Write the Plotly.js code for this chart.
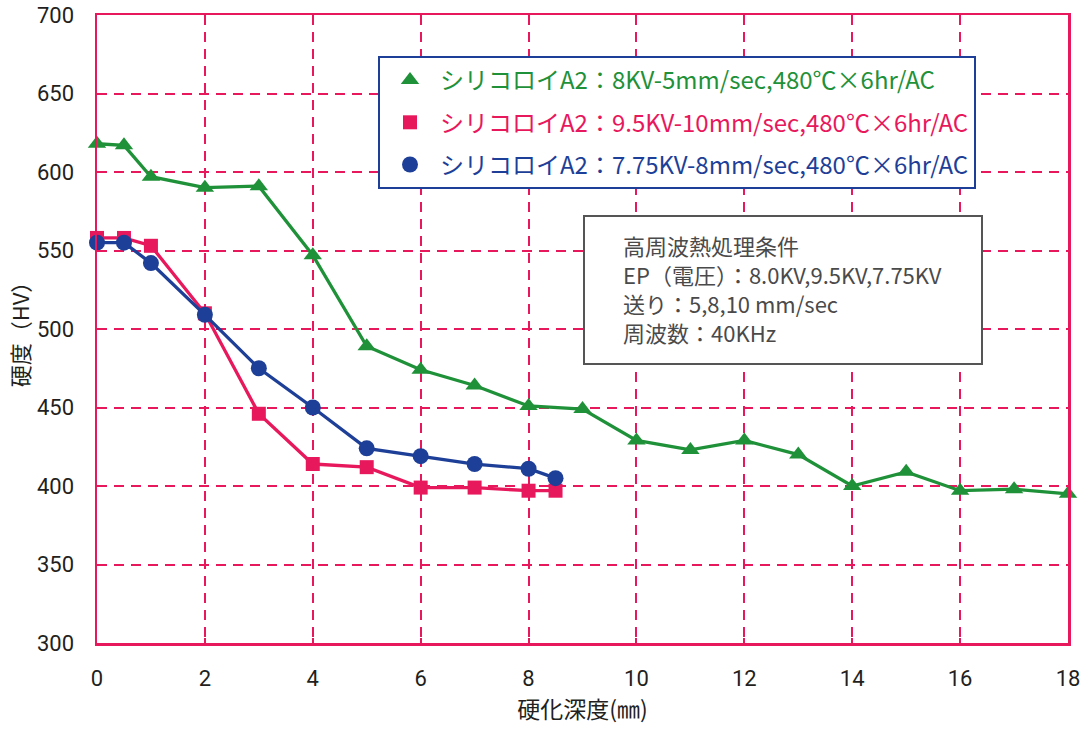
<!DOCTYPE html>
<html>
<head>
<meta charset="utf-8">
<script src="https://cdn.plot.ly/plotly-3.0.1.min.js"></script>
<style>html,body{margin:0;padding:0;background:#fff;}#chart{width:1080px;height:729px;}</style>
</head>
<body>
<div id="chart"></div>
<script>
// Depth (mm) and hardness (HV)
const depthGreen = [0, 0.5, 1, 2, 3, 4, 5, 6, 7, 8, 9, 10, 11, 12, 13, 14, 15, 16, 17, 18];
const hvGreen = [618, 617, 597, 590, 591, 547, 489, 474, 464, 451, 449, 429, 423, 429, 420, 400, 409, 397, 398, 395];
const depthRed = [0, 0.5, 1, 2, 3, 4, 5, 6, 7, 8, 8.5];
const hvRed = [558, 558, 553, 510, 446, 414, 412, 399, 399, 397, 397];
const depthBlue = [0, 0.5, 1, 2, 3, 4, 5, 6, 7, 8, 8.5];
const hvBlue = [555, 555, 542, 509, 475, 450, 424, 419, 414, 411, 405];

const seriesNames = [
  'シリコロイA2：8KV-5mm/sec,480℃×6hr/AC',
  'シリコロイA2：9.5KV-10mm/sec,480℃×6hr/AC',
  'シリコロイA2：7.75KV-8mm/sec,480℃×6hr/AC'
];
const conditionLines = [
  '高周波熱処理条件',
  'EP（電圧）：8.0KV,9.5KV,7.75KV',
  '送り：5,8,10 mm/sec',
  '周波数：40KHz'
];
const xTitle = '硬化深度(㎜)';
const yTitle = '硬度（HV）';

const GREEN = '#1f9139', RED = '#e8185d', BLUE = '#1e3f97';
const FONT = '"Noto Sans CJK JP", "Noto Sans", sans-serif';
const TICKFONT = 'Roboto, "Liberation Sans", sans-serif';

const W = 1080, H = 729;
const M = {l: 97, r: 12, t: 15, b: 86};
const PW = W - M.l - M.r, PH = H - M.t - M.b;
function px2x(p) { return (p - M.l) / PW; }
function px2y(p) { return (H - M.b - p) / PH; }

function dataTrace(x, y, color, symbol, size) {
  return {x: x, y: y, type: 'scatter', mode: 'lines+markers', showlegend: false,
    cliponaxis: false,
    line: {color: color, width: 3.3},
    marker: {color: color, symbol: symbol, size: size}};
}
function legendTrace(name, color, symbol, size, group) {
  return {x: [null], y: [null], type: 'scatter', mode: 'markers', legendgroup: group,
    name: '<span style="color:' + color + '">' + name + '</span>',
    marker: {color: color, symbol: symbol, size: size}};
}

const traces = [
  dataTrace(depthGreen, hvGreen, GREEN, 'triangle-up', 16),
  dataTrace(depthRed, hvRed, RED, 'square', 14),
  dataTrace(depthBlue, hvBlue, BLUE, 'circle', 16),
  legendTrace(seriesNames[0], GREEN, 'triangle-up', 16, 'g1'),
  legendTrace(seriesNames[1], RED, 'square', 14, 'g2'),
  legendTrace(seriesNames[2], BLUE, 'circle', 16, 'g3')
];

const axisCommon = {
  showline: true, linecolor: RED, linewidth: 2.5, mirror: true,
  showgrid: true, gridcolor: RED, gridwidth: 2, griddash: '10px,7px',
  zeroline: false, ticks: 'inside', ticklen: 5, tickcolor: RED, tickwidth: 2,
  ticklabeloverflow: 'allow',
  tickfont: {family: TICKFONT, size: 22, color: '#231f20'}
};

const lineCentersPx = [245, 274, 303, 332];
const conditionAnnotations = conditionLines.map(function (t, i) {
  return {
    xref: 'paper', yref: 'paper',
    x: px2x(621), y: px2y(lineCentersPx[i]),
    xanchor: 'left', yanchor: 'middle', align: 'left', showarrow: false,
    text: t, font: {family: FONT, size: 22, color: '#4a4a4a'}
  };
});

const layout = {
  width: W, height: H,
  margin: M,
  paper_bgcolor: '#ffffff', plot_bgcolor: '#ffffff',
  font: {family: FONT, color: '#231f20'},
  xaxis: Object.assign({}, axisCommon, {
    range: [0, 18], dtick: 2, tick0: 0, ticklabelstandoff: 14,
    title: {text: xTitle, font: {family: FONT, size: 23, color: '#231f20'}, standoff: 4}
  }),
  yaxis: Object.assign({}, axisCommon, {
    range: [300, 700], dtick: 50, tick0: 300, ticklabelstandoff: 16,
    title: {text: yTitle, font: {family: FONT, size: 22, color: '#231f20'}, standoff: 2}
  }),
  legend: {
    x: px2x(378), y: px2y(56), xanchor: 'left', yanchor: 'top',
    bgcolor: '#ffffff', bordercolor: BLUE, borderwidth: 2,
    font: {family: FONT, size: 24},
    tracegroupgap: 8, itemwidth: 50
  },
  shapes: [{
    type: 'rect', xref: 'paper', yref: 'paper',
    x0: px2x(584), x1: px2x(982),
    y0: px2y(364), y1: px2y(216),
    line: {color: '#555555', width: 2}, fillcolor: '#ffffff', layer: 'above'
  }],
  annotations: conditionAnnotations
};

Plotly.newPlot('chart', traces, layout, {displayModeBar: false, staticPlot: true});
</script>
</body>
</html>
